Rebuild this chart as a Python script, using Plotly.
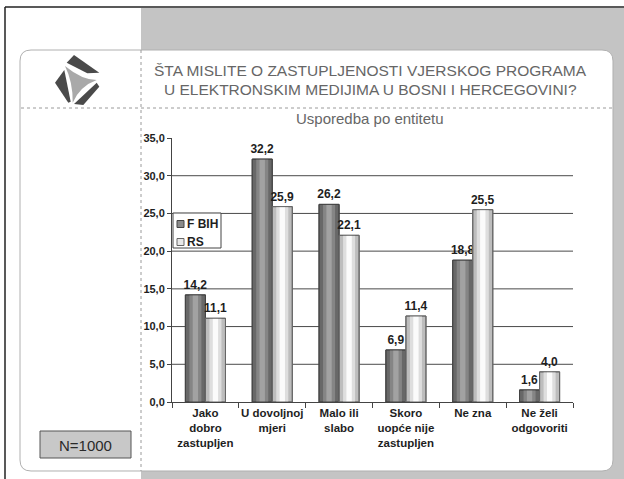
import plotly.graph_objects as go

# ---------------- data ----------------
categories = ["Jako<br>dobro<br>zastupljen", "U dovoljnoj<br>mjeri", "Malo ili<br>slabo",
              "Skoro<br>uopće nije<br>zastupljen", "Ne zna", "Ne želi<br>odgovoriti"]
fbih = [14.2, 32.2, 26.2, 6.9, 18.8, 1.6]
rs = [11.1, 25.9, 22.1, 11.4, 25.5, 4.0]
series_names = ["F BIH", "RS"]
y_ticks = [0, 5, 10, 15, 20, 25, 30, 35]
title_lines = ["ŠTA MISLITE O ZASTUPLJENOSTI VJERSKOG PROGRAMA",
               "U ELEKTRONSKIM MEDIJIMA U BOSNI I HERCEGOVINI?"]
subtitle = "Usporedba po entitetu"
n_label = "N=1000"

# ---------------- geometry ----------------
W, H = 624, 479
L, R, T, B = 172, 51, 138, 77
PW, PH = W - L - R, H - T - B


def px(x):
    return (x - L) / PW


def py(y):
    return (H - B - y) / PH


def path_from(points, close=True):
    s = "M " + " L ".join(f"{px(x):.5f},{py(y):.5f}" for x, y in points)
    return s + (" Z" if close else "")


def rounded_rect(x0, y0, x1, y1, r):
    def P(x, y):
        return f"{px(x):.5f},{py(y):.5f}"
    return (f"M {P(x0 + r, y0)} L {P(x1 - r, y0)} Q {P(x1, y0)} {P(x1, y0 + r)} "
            f"L {P(x1, y1 - r)} Q {P(x1, y1)} {P(x1 - r, y1)} L {P(x0 + r, y1)} "
            f"Q {P(x0, y1)} {P(x0, y1 - r)} L {P(x0, y0 + r)} Q {P(x0, y0)} {P(x0 + r, y0)} Z")


BOLD = dict(family="Liberation Sans, Arial, sans-serif", weight="bold", color="#1e1e1e")

fig = go.Figure()

# bars with simple cylinder shading (bands drawn from the same data)
styles = [
    # name, values, offset, edge, mid, light, outline
    (series_names[0], fbih, -0.3, "#686868", "#858585", "#a2a2a2", "#444444"),
    (series_names[1], rs, 0.0, "#bdbdbd", "#dedede", "#fbfbfb", "#666666"),
]
for name, vals, off, c_edge, c_mid, c_light, c_line in styles:
    fig.add_trace(go.Bar(x=categories, y=vals, name=name, offset=off, width=0.3,
                         marker=dict(color=c_edge, line=dict(color=c_line, width=1)),
                         showlegend=False, hoverinfo="skip"))
    fig.add_trace(go.Bar(x=categories, y=vals, offset=off + 0.06, width=0.18,
                         marker=dict(color=c_mid, line=dict(width=0)),
                         showlegend=False, hoverinfo="skip"))
    fig.add_trace(go.Bar(x=categories, y=vals, offset=off + 0.11, width=0.08,
                         marker=dict(color=c_light, line=dict(width=0)),
                         showlegend=False, hoverinfo="skip"))
    fig.add_trace(go.Bar(x=categories, y=vals, offset=off, width=0.3,
                         marker=dict(color="rgba(0,0,0,0)", line=dict(color=c_line, width=1)),
                         texttemplate="%{y:.1f}", textposition="outside", constraintext="none",
                         textfont=dict(size=12, **BOLD), cliponaxis=False,
                         showlegend=False, hoverinfo="skip"))

shapes = []
# gray background block on the right
shapes.append(dict(type="rect", xref="paper", yref="paper", x0=px(141), x1=px(624), y0=py(8), y1=py(479),
                   fillcolor="#c4c4c4", line=dict(width=0), layer="below"))
# white rounded card
shapes.append(dict(type="path", xref="paper", yref="paper", path=rounded_rect(20, 50, 613, 471, 11),
                   fillcolor="white", line=dict(color="#b0b0b0", width=1), layer="below"))
# frame lines (left & top)
shapes.append(dict(type="line", xref="paper", yref="paper", x0=px(5), x1=px(5), y0=py(7), y1=py(479),
                   line=dict(color="#222222", width=1.5), layer="below"))
shapes.append(dict(type="line", xref="paper", yref="paper", x0=px(5), x1=px(624), y0=py(7), y1=py(7),
                   line=dict(color="#222222", width=1.5), layer="below"))
# dotted separators
shapes.append(dict(type="line", xref="paper", yref="paper", x0=px(141), x1=px(141), y0=py(50), y1=py(471),
                   line=dict(color="#9a9a9a", width=1, dash="dot"), layer="below"))
shapes.append(dict(type="line", xref="paper", yref="paper", x0=px(21), x1=px(612), y0=py(108), y1=py(108),
                   line=dict(color="#9a9a9a", width=1, dash="dot"), layer="below"))
# interior gridlines (none at the top edge, as in the original)
for v in y_ticks[1:-1]:
    shapes.append(dict(type="line", xref="paper", yref="y", x0=0, x1=1, y0=v, y1=v,
                       line=dict(color="#4a4a4a", width=1), layer="below"))
# logo
logo_dark = [
    [(66.7, 62.7), (74, 55), (99.3, 72.7), (87.3, 73.3)],
    [(55, 82.7), (64.3, 70), (70.7, 101.7), (68.3, 102.7)],
    [(74, 104), (96.7, 82.7), (99.3, 86.7), (83.3, 105)],
]
for poly in logo_dark:
    shapes.append(dict(type="path", xref="paper", yref="paper", path=path_from(poly),
                       fillcolor="#4a4a4a", line=dict(width=0), layer="below"))
shapes.append(dict(type="path", xref="paper", yref="paper",
                   path=(f"M {px(65):.5f},{py(66):.5f} Q {px(82):.5f},{py(80):.5f} {px(96.7):.5f},{py(80):.5f} "
                         f"Q {px(80):.5f},{py(86):.5f} {px(72.7):.5f},{py(102.7):.5f} "
                         f"Q {px(73):.5f},{py(82):.5f} {px(65):.5f},{py(66):.5f} Z"),
                   fillcolor="#a9a9a9", line=dict(width=0), layer="below"))
# N box
shapes.append(dict(type="rect", xref="paper", yref="paper", x0=px(40), x1=px(131), y0=py(431), y1=py(458),
                   fillcolor="#c8c8c8", line=dict(color="#555555", width=1), layer="below"))

# custom legend (drawn above plot area)
shapes.append(dict(type="rect", xref="paper", yref="paper", x0=px(173), x1=px(221), y0=py(213), y1=py(248),
                   fillcolor="white", line=dict(color="#444444", width=1), layer="above"))
legend_swatches = [("#8a8a8a", "#444444", 224), ("#e8e8e8", "#666666", 242)]
for fill, edge, yc in legend_swatches:
    shapes.append(dict(type="rect", xref="paper", yref="paper", x0=px(177), x1=px(184),
                       y0=py(yc - 3.5), y1=py(yc + 3.5),
                       fillcolor=fill, line=dict(color=edge, width=1), layer="above"))

TXT = dict(family="Liberation Sans, Arial, sans-serif", color="#666666")
annotations = [
    dict(text=title_lines[0], x=px(370), y=py(70), xref="paper", yref="paper", showarrow=False,
         xanchor="center", yanchor="middle", font=dict(size=15.5, **TXT)),
    dict(text=title_lines[1], x=px(370), y=py(90), xref="paper", yref="paper", showarrow=False,
         xanchor="center", yanchor="middle", font=dict(size=15.5, **TXT)),
    dict(text=subtitle, x=px(370), y=py(118), xref="paper", yref="paper", showarrow=False,
         xanchor="center", yanchor="middle", font=dict(size=15, **TXT)),
    dict(text=n_label, x=px(85.5), y=py(445), xref="paper", yref="paper", showarrow=False,
         xanchor="center", yanchor="middle",
         font=dict(size=15, family="Liberation Sans, Arial, sans-serif", color="#2a2a2a")),
]
for name, (_, _, yc) in zip(series_names, legend_swatches):
    annotations.append(dict(text=name, x=px(185), y=py(yc), xref="paper", yref="paper", showarrow=False,
                            xanchor="left", yanchor="middle", font=dict(size=12, **BOLD)))

fig.update_layout(
    width=W, height=H,
    margin=dict(l=L, r=R, t=T, b=B, pad=0),
    paper_bgcolor="white",
    plot_bgcolor="#c8c8c8",
    barmode="overlay",
    separators=", ",
    shapes=shapes,
    annotations=annotations,
    showlegend=False,
    xaxis=dict(type="category", showgrid=False, showline=True, linecolor="#444444", linewidth=1,
               ticks="outside", ticklen=5, tickcolor="#444444", tickson="boundaries",
               tickangle=0, automargin=False,
               tickfont=dict(size=11.5, **BOLD), range=[-0.5, 5.5], fixedrange=True),
    yaxis=dict(range=[0, 35], tickvals=y_ticks, tickformat=".1f", showgrid=False, automargin=False,
               showline=True, linecolor="#444444", linewidth=1,
               ticks="outside", ticklen=4, tickcolor="#444444",
               tickfont=dict(size=11, **BOLD), zeroline=False, fixedrange=True),
)

fig.write_html("out.html", config={"displayModeBar": False},
               post_script="document.body.style.margin='0';document.body.style.overflow='hidden';")
